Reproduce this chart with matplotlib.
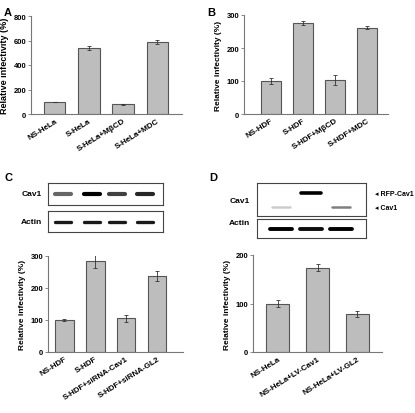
import numpy as np
import matplotlib
matplotlib.use('Agg')
import matplotlib.pyplot as plt
import matplotlib.transforms as mtransforms

plt.rcParams['font.family'] = ['Liberation Sans', 'DejaVu Sans']
plt.rcParams['font.weight'] = 'bold'

W, H = 415, 414

# panel A
a_labels = ['NS-HeLa', 'S-HeLa', 'S-HeLa+M\u03b2CD', 'S-HeLa+MDC']
a_vals = [100, 540, 78, 590]
a_err = [2, 15, 5, 15]
# panel B
b_labels = ['NS-HDF', 'S-HDF', 'S-HDF+M\u03b2CD', 'S-HDF+MDC']
b_vals = [100, 275, 102, 262]
b_err = [8, 6, 15, 4]
# panel C
c_labels = ['NS-HDF', 'S-HDF', 'S-HDF+siRNA-Cav1', 'S-HDF+siRNA-GL2']
c_vals = [100, 283, 105, 237]
c_err = [3, 20, 12, 15]
c_cav1 = [0.6, 1.0, 0.75, 0.85]
c_actin = [0.9, 0.9, 0.9, 0.9]
# panel D
d_labels = ['NS-HeLa', 'NS-HeLa+LV-Cav1', 'NS-HeLa+LV-GL2']
d_vals = [100, 174, 78]
d_err = [8, 8, 6]
d_rfp = [0.0, 1.0, 0.0]
d_cav1 = [0.2, 0.0, 0.5]
d_actin = [1.0, 0.95, 1.0]


def ax_px(x0, y0, x1, y1):
    return fig.add_axes([x0 / W, 1 - y1 / H, (x1 - x0) / W, (y1 - y0) / H])


def bar_panel(ax, labels, vals, err, ymax, step, xlim, width, dx, ylab_fs=6):
    x = np.arange(len(vals))
    ax.bar(x, vals, width=width, color='#bdbdbd', edgecolor='#555555', linewidth=0.8)
    ax.errorbar(x, vals, yerr=err, fmt='none', ecolor='#333333', elinewidth=0.6,
                capsize=1.5, capthick=0.6)
    ax.set_xlim(*xlim)
    ax.set_ylim(0, ymax)
    ax.set_yticks(np.arange(0, ymax + 1, step))
    ax.set_xticks(x)
    ax.set_xticklabels(labels, rotation=32, ha='right', rotation_mode='anchor',
                       fontsize=5.8, fontweight='bold')
    off = mtransforms.ScaledTranslation(dx / 100, -2 / 100, fig.dpi_scale_trans)
    for t in ax.get_xticklabels():
        t.set_transform(t.get_transform() + off)
    for s in ['top', 'right']:
        ax.spines[s].set_visible(False)
    for s in ['left', 'bottom']:
        ax.spines[s].set_color('#777777')
        ax.spines[s].set_linewidth(0.8)
    ax.tick_params(axis='y', length=2, width=0.6, labelsize=5.5, pad=1.5, color='#777777')
    ax.tick_params(axis='x', length=0, pad=2)
    ax.set_ylabel('Relative infectivity (%)', fontsize=ylab_fs, fontweight='bold', labelpad=3)


def blot(ax, lanes, intens, y, lw, length):
    for xc, v in zip(lanes, intens):
        if v <= 0:
            continue
        ax.plot([xc - length / 2, xc + length / 2], [y, y], color='black',
                lw=lw, solid_capstyle='round', alpha=v)
    ax.set_xlim(0, 1)
    ax.set_ylim(0, 1)
    ax.set_xticks([])
    ax.set_yticks([])
    for s in ax.spines.values():
        s.set_color('#444444')
        s.set_linewidth(0.8)


fig = plt.figure(figsize=(W / 100, H / 100), dpi=100)

axA = ax_px(31, 17, 182, 115)
bar_panel(axA, a_labels, a_vals, a_err, 800, 200, (-0.7, 3.73), 0.62, 8, ylab_fs=6.5)
axB = ax_px(244, 16, 388, 115)
bar_panel(axB, b_labels, b_vals, b_err, 300, 100, (-0.84, 3.66), 0.62, 10)
axC = ax_px(48, 257, 183, 353)
bar_panel(axC, c_labels, c_vals, c_err, 300, 100, (-0.52, 3.84), 0.61, 10)
axD = ax_px(253, 256, 382, 353)
bar_panel(axD, d_labels, d_vals, d_err, 200, 100, (-0.63, 2.63), 0.58, 17)

# blots C
c_lanes = [(63 - 48) / 115, (92 - 48) / 115, (117 - 48) / 115, (145 - 48) / 115]
bc1 = ax_px(48, 184, 163, 206)
blot(bc1, c_lanes, c_cav1, 0.5, 3.0, 0.14)
bc2 = ax_px(48, 212, 163, 233)
blot(bc2, c_lanes, c_actin, 0.5, 2.4, 0.14)
fig.text(42 / W, 1 - 195 / H, 'Cav1', fontsize=6, ha='right', va='center')
fig.text(42 / W, 1 - 222 / H, 'Actin', fontsize=6, ha='right', va='center')

# blots D
d_lanes = [(281 - 257) / 109, (311 - 257) / 109, (341 - 257) / 109]
bd1 = ax_px(257, 184, 366, 217)
blot(bd1, d_lanes, d_rfp, 0.70, 2.6, 0.19)
blot(bd1, d_lanes, d_cav1, 0.27, 1.8, 0.16)
bd2 = ax_px(257, 220, 366, 239)
blot(bd2, d_lanes, d_actin, 0.5, 2.8, 0.2)
fig.text(250 / W, 1 - 202 / H, 'Cav1', fontsize=6, ha='right', va='center')
fig.text(250 / W, 1 - 224 / H, 'Actin', fontsize=6, ha='right', va='center')
fig.text(375 / W, 1 - 194 / H, '\u25c2 RFP-Cav1', fontsize=5, ha='left', va='center')
fig.text(375 / W, 1 - 209 / H, '\u25c2 Cav1', fontsize=5, ha='left', va='center')

for lab, xp, yp in [('A', 4, 13), ('B', 207, 13), ('C', 4, 178), ('D', 209, 178)]:
    fig.text(xp / W, 1 - yp / H, lab, fontsize=8, fontweight='bold', ha='left', va='center')

fig.savefig('out.png', dpi=100)
